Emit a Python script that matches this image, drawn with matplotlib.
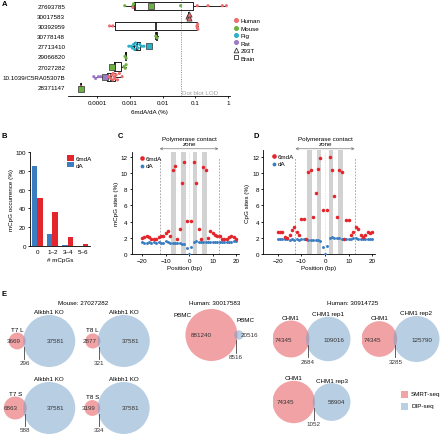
import numpy as np
import matplotlib
matplotlib.use('Agg')
import matplotlib.pyplot as plt
from matplotlib.patches import Circle, Rectangle
from matplotlib.lines import Line2D

plt.rcParams['font.family'] = ['Liberation Sans', 'DejaVu Sans']
plt.rcParams['font.size'] = 4.5
plt.rcParams['axes.linewidth'] = 0.6
for k in ['xtick', 'ytick']:
    plt.rcParams[k + '.major.width'] = 0.6
    plt.rcParams[k + '.major.size'] = 1.6
    plt.rcParams[k + '.major.pad'] = 1.2
    plt.rcParams[k + '.labelsize'] = 4.5
plt.rcParams['axes.labelsize'] = 4.5
plt.rcParams['axes.labelpad'] = 1.5

# ---------------- data ----------------
# Panel A
a_studies = ['27693785', '30017583', '30392959', '30778148', '27713410',
             '29066820', '27027282', '10.1039/C5RA05307B', '28371147']
a_whislo = [0.0007, 0.055, 0.00024, 0.0060, 0.00093, 0.00070, 0.00029, 0.000079, 0.000032]
a_q1 = [0.00132, 0.058, 0.00035, 0.0062, 0.0013, 0.00072, 0.00032, 0.00020, 0.000032]
a_med = [0.0014, 0.062, 0.0065, 0.0065, 0.0016, 0.00074, 0.00036, 0.00027, 0.000032]
a_q3 = [0.085, 0.066, 0.115, 0.0068, 0.0021, 0.00076, 0.00052, 0.00036, 0.000032]
a_whishi = [0.89, 0.068, 0.12, 0.0070, 0.0027, 0.00078, 0.00077, 0.00058, 0.000032]

a_pt_study = [0, 0, 0, 0, 0, 0, 0, 0, 0, 0,
              1, 1, 1,
              2, 2, 2, 2, 2, 2,
              3, 3,
              4, 4, 4, 4, 4, 4, 4, 4, 4, 4, 4, 4,
              5, 5,
              6, 6, 6, 6,
              7, 7, 7, 7, 7, 7, 7, 7, 7, 7, 7, 7, 7, 7, 7, 7,
              8, 8]
a_pt_value = [0.0007, 0.00124, 0.0013, 0.0045, 0.0356, 0.00124, 0.115, 0.244, 0.67, 0.89,
              0.058, 0.062, 0.066,
              0.00024, 0.0003, 0.112, 0.115, 0.118, 0.12,
              0.0062, 0.0068,
              0.00093, 0.0011, 0.0012, 0.0013, 0.0014, 0.0015, 0.0016, 0.0018, 0.0020, 0.0023, 0.0027, 0.0038,
              0.00071, 0.00077,
              0.00029, 0.00066, 0.00072, 0.00077,
              0.000079, 0.00009, 0.00011, 0.00013, 0.00017,
              0.00023, 0.00026, 0.00028, 0.0003, 0.00031, 0.00033, 0.00035, 0.00038, 0.00042, 0.00048, 0.00058,
              0.000032, 0.000032]
a_pt_species = ['Mouse'] * 5 + ['Human'] * 5 + ['Human'] * 3 + ['Human'] * 6 + ['Mouse'] * 2 + \
               ['Pig'] * 12 + ['Mouse'] * 2 + ['Mouse'] * 4 + ['Rat'] * 5 + ['Human'] * 11 + ['Human', 'Mouse']
a_pt_sample = ['tissue', 'tissue', 'tissue', 'Brain', 'tissue', 'tissue', 'tissue', 'tissue', 'tissue', 'tissue',
               '293T', '293T', '293T',
               'tissue'] * 1 + ['tissue'] * 5 + ['tissue'] * 2 + ['tissue'] * 11 + ['Brain'] + \
              ['tissue'] * 2 + ['Brain', 'tissue', 'tissue', 'tissue'] + ['tissue'] * 4 + ['Brain'] + \
              ['tissue'] * 11 + ['tissue', 'Brain']
a_lod = 0.0356

# Panel B
b_categories = ['0', '1\u20132', '3\u20134', '5\u20136']
b_6mda = [51, 36.4, 9.6, 1.8]
b_da = [85, 13, 1, 0.2]

# Panels C and D
cd_positions = list(range(-20, 21))
c_6mda = [1.97, 2.1, 2.2, 2.05, 1.8, 1.9, 1.85, 2.05, 2.2, 2.25, 2.6, 2.8, 2.2, 10.35, 10.9, 1.8, 3.1, 8.8,
          11.4, 4.05, np.nan, 4.05, 11.4, 8.75, 3.1, 1.8, 10.8, 10.35, 2.0, 2.85, 2.6, 2.35, 2.2, 2.2, 1.9,
          1.85, 1.9, 2.1, 2.2, 2.05, 1.8]
c_da = [1.45, 1.4, 1.4, 1.45, 1.4, 1.45, 1.4, 1.45, 1.4, 1.4, 1.6, 1.45, 1.4, 1.35, 1.35, 1.3, 1.3, 1.25,
        1.2, 0.75, 0.05, 0.9, 1.5, 1.55, 1.5, 1.5, 1.5, 1.45, 1.5, 1.5, 1.45, 1.5, 1.45, 1.5, 1.5, 1.45,
        1.5, 1.5, 1.5, 1.55, 1.6]
d_6mda = [2.75, 2.7, 2.75, 2.05, 2.0, 2.3, 2.95, 3.35, 2.75, 2.3, 4.3, 4.3, 1.9, 10.1, 10.4, 4.6, 7.5,
          10.5, 11.9, 5.4, np.nan, 5.4, 12.0, 10.4, 7.2, 4.6, 10.4, 10.1, 1.9, 4.2, 4.2, 2.3, 2.7, 3.35,
          3.15, 2.3, 2.1, 2.3, 2.75, 2.55, 2.75]
d_da = [1.9, 1.85, 1.85, 1.8, 1.8, 1.75, 1.8, 1.75, 1.8, 1.75, 1.8, 1.85, 1.8, 1.75, 1.75, 1.7, 1.75, 1.7,
        1.65, 0.9, 0.05, 1.0, 2.0, 2.05, 2.0, 2.0, 1.95, 1.9, 1.85, 1.8, 1.85, 1.9, 1.95, 2.0, 1.9, 1.85,
        1.85, 1.85, 1.9, 1.85, 1.9]
contact_bands = [-6.5, -2.5, 2.5, 6.5]
contact_zone = [-12.5, 12.5]

# Panel E
venn_left_only = [3669, 2877, 6863, 3199, 881240, 74345, 74345, 74345]
venn_right_only = [37581, 37581, 37581, 37581, 20516, 109016, 125790, 58904]
venn_overlap = [296, 321, 588, 334, 8516, 2684, 3285, 1052]
venn_left_name = ['T7 L', 'T8 L', 'T7 S', 'T8 S', 'PBMC', 'CHM1', 'CHM1', 'CHM1']
venn_right_name = ['Alkbh1 KO', 'Alkbh1 KO', 'Alkbh1 KO', 'Alkbh1 KO', 'PBMC', 'CHM1 rep1', 'CHM1 rep2', 'CHM1 rep3']
venn_group_titles = ['Mouse: 27027282', 'Human: 30017583', 'Human: 30914725']

# ---------------- figure ----------------
W, H = 440, 435
fig = plt.figure(figsize=(4.4, 4.35), dpi=100)


def px_axes(l, t, r, b):
    return fig.add_axes([l / W, 1 - b / H, (r - l) / W, (b - t) / H])


def fig_text(x, y, s, **kw):
    fig.text(x / W, 1 - y / H, s, **kw)


species_col = {'Human': '#ee6b6e', 'Mouse': '#6cb043', 'Pig': '#2bb1c6', 'Rat': '#9c7bc4'}
sample_marker = {'tissue': 'o', '293T': '^', 'Brain': 's'}
sample_size = {'tissue': 5, '293T': 14, 'Brain': 13}

# ---- Panel A ----
axA = px_axes(68, 0, 230, 97)
axA.set_xscale('log')
axA.set_xlim(10 ** -4.89, 10 ** 0.06)
axA.set_ylim(8.91, -0.66)
stats = []
for i in range(len(a_studies)):
    stats.append(dict(whislo=a_whislo[i], q1=a_q1[i], med=a_med[i], q3=a_q3[i], whishi=a_whishi[i]))
axA.bxp(stats, positions=range(len(a_studies)), orientation='horizontal', widths=0.8, showfliers=False,
        showcaps=False,
        boxprops=dict(color='#222222', lw=0.7), whiskerprops=dict(color='#222222', lw=0.7),
        medianprops=dict(color='#111111', lw=1.2), zorder=2)
axA.axvline(a_lod, color='#9a9a9a', ls=(0, (1.2, 1.2)), lw=0.7, zorder=1)
axA.text(a_lod * 1.12, 8.55, 'Dot blot LOD', color='#a0a0a0', fontsize=4.5, va='center', ha='left')

# simple swarm-like vertical spreading for nearby points
vals = np.array(a_pt_value)
rows = np.array(a_pt_study)
offs = np.zeros(len(vals))
for r in range(len(a_studies)):
    idx = np.where(rows == r)[0]
    idx = idx[np.argsort(vals[idx])]
    k = 0
    prev = None
    for j in idx:
        if prev is not None and abs(np.log10(vals[j]) - np.log10(prev)) < 0.06:
            k += 1
        else:
            k = 0
        offs[j] = [0, 0.18, -0.18, 0.32, -0.32][k % 5]
        prev = vals[j]
for j in range(len(vals)):
    m = sample_marker[a_pt_sample[j]]
    axA.scatter(vals[j], rows[j] + offs[j], s=sample_size[a_pt_sample[j]], marker=m,
                color=species_col[a_pt_species[j]],
                edgecolor='#333333' if m != 'o' else 'none', linewidth=0.5, zorder=3)
axA.set_yticks(range(len(a_studies)))
axA.set_yticklabels(a_studies)
axA.tick_params(axis='y', length=0, pad=2)
axA.set_xticks([1e-4, 1e-3, 1e-2, 1e-1, 1])
axA.set_xticklabels(['0.0001', '0.001', '0.01', '0.1', '1'])
axA.minorticks_off()
for s in ['left', 'top', 'right']:
    axA.spines[s].set_visible(False)
axA.set_xlabel('6mdA/dA (%)', labelpad=3)
handlesA = [Line2D([], [], ls='', marker='o', color=species_col[s], markersize=2.6, label=s)
            for s in ['Human', 'Mouse', 'Pig', 'Rat']]
handlesA += [Line2D([], [], ls='', marker='^', mfc='none', mec='#333333', mew=0.6, markersize=3.4, label='293T'),
             Line2D([], [], ls='', marker='s', mfc='none', mec='#333333', mew=0.6, markersize=3.2, label='Brain')]
axA.legend(handles=handlesA, loc='upper left', bbox_to_anchor=(1.005, 0.83), frameon=False,
           handlelength=0.8, handletextpad=0.3, labelspacing=0.33, borderaxespad=0, fontsize=4.5)

# ---- Panel B ----
axB = px_axes(30, 153, 90, 247)
xb = np.arange(len(b_categories))
bw = 0.35
axB.bar(xb - bw / 2, b_da, width=bw, color='#3a7ec1', label='dA')
axB.bar(xb + bw / 2, b_6mda, width=bw, color='#e4252b', label='6mdA')
axB.set_xlim(-0.48, 3.47)
axB.set_ylim(0, 100)
axB.set_yticks(range(0, 101, 20))
axB.set_xticks(xb)
axB.set_xticklabels(b_categories)
axB.tick_params(axis='x', length=0, pad=2)
for s in ['top', 'right']:
    axB.spines[s].set_visible(False)
axB.set_ylabel('mCpG occurrence (%)')
axB.set_xlabel('# mCpGs', labelpad=2)
hB, lB = axB.get_legend_handles_labels()
axB.legend(hB[::-1], lB[::-1], loc='upper left', bbox_to_anchor=(0.58, 0.99), frameon=False,
           handlelength=1.0, handleheight=0.9, handletextpad=0.4, labelspacing=0.15, borderaxespad=0,
           fontsize=4.5)


# ---- Panels C and D ----
def position_panel(ax, red, blue, ylab, xleft):
    ax.set_xlim(xleft, 21)
    ax.set_ylim(0, 12.6)
    for c in contact_bands:
        ax.axvspan(c - 1, c + 1, color='#d2d2d2', lw=0, zorder=0)
    for z in contact_zone:
        ax.plot([z, z], [0, 11.8], color='#8a8a8a', ls=(0, (2.5, 2)), lw=0.5, zorder=1)
    ax.plot([0, 0], [0, 12.6], color='#c8c8c8', ls=(0, (1, 1.5)), lw=0.5, zorder=1)
    ax.scatter(cd_positions, blue, s=4.5, color='#3a7ec1', lw=0, zorder=3, label='dA')
    ax.scatter(cd_positions, red, s=6.5, color='#e4252b', lw=0, zorder=4, label='6mdA')
    ax.set_yticks(range(0, 13, 2))
    ax.set_xticks([-20, -10, 0, 10, 20])
    for s in ['top', 'right']:
        ax.spines[s].set_visible(False)
    ax.set_ylabel(ylab)
    ax.set_xlabel('Position (bp)', labelpad=1.5)
    ax.annotate('', xy=(contact_zone[0], 13.0), xytext=(contact_zone[1], 13.0), xycoords='data',
                arrowprops=dict(arrowstyle='<->', color='#777777', lw=0.5, shrinkA=0, shrinkB=0,
                                mutation_scale=4), annotation_clip=False)
    ax.text(0, 13.35, 'Polymerase contact\nzone', ha='center', va='bottom', fontsize=4.5,
            linespacing=0.95, clip_on=False)
    h, l = ax.get_legend_handles_labels()
    ax.legend(h[::-1], l[::-1], loc='upper left', bbox_to_anchor=(0.06, 0.99), frameon=False,
              handlelength=0.6, handletextpad=0.3, labelspacing=0.3, borderaxespad=0, fontsize=4.5,
              markerscale=1.3)


axC = px_axes(131.5, 153, 238.5, 255)
position_panel(axC, c_6mda, c_da, 'mCpG sites (%)', -24.5)
axD = px_axes(263, 151, 374.7, 255)
position_panel(axD, d_6mda, d_da, 'CpG sites (%)', -26.2)
axD.set_ylim(0, 12.6 * (104 / 102))


# ---- Panel E (Venn diagrams) ----
def lens_area(r1, r2, d):
    if d >= r1 + r2:
        return 0.0
    if d <= abs(r1 - r2):
        return np.pi * min(r1, r2) ** 2
    a = r1 ** 2 * np.arccos((d * d + r1 * r1 - r2 * r2) / (2 * d * r1))
    b = r2 ** 2 * np.arccos((d * d + r2 * r2 - r1 * r1) / (2 * d * r2))
    c = 0.5 * np.sqrt((-d + r1 + r2) * (d + r1 - r2) * (d - r1 + r2) * (d + r1 + r2))
    return a + b - c


def solve_d(r1, r2, target):
    lo, hi = abs(r1 - r2), r1 + r2
    for _ in range(80):
        mid = 0.5 * (lo + hi)
        if lens_area(r1, r2, mid) > target:
            lo = mid
        else:
            hi = mid
    return 0.5 * (lo + hi)


red_c = (229 / 255, 71 / 255, 77 / 255)
blue_c = (115 / 255, 159 / 255, 201 / 255)
venn_centers = [(42, 342), (117.5, 342), (39.5, 409), (117, 409), (214.5, 336), (311.5, 340),
                (400.5, 340), (311.5, 403)]
BOXW, BOXH = 78, 52

for i, (cx, cy) in enumerate(venn_centers):
    a_only, b_only, ov = venn_left_only[i], venn_right_only[i], venn_overlap[i]
    U = a_only + b_only + ov
    r1 = np.sqrt((a_only + ov) / U / np.pi)
    r2 = np.sqrt((b_only + ov) / U / np.pi)
    d = solve_d(r1, r2, ov / U)
    Wd = r1 + d + r2
    Hd = 2 * max(r1, r2)
    s = min(BOXW / Wd, BOXH / Hd)  # px per unit
    xc = (-r1 + d + r2) / 2
    ax = px_axes(cx - BOXW / 2, cy - BOXH / 2, cx + BOXW / 2, cy + BOXH / 2)
    ax.set_axis_off()
    ax.set_xlim(xc - BOXW / 2 / s, xc + BOXW / 2 / s)
    ax.set_ylim(-BOXH / 2 / s, BOXH / 2 / s)
    ax.add_patch(Circle((0, 0), r1, fc=red_c, alpha=0.5, ec='none'))
    ax.add_patch(Circle((d, 0), r2, fc=blue_c, alpha=0.5, ec='none'))
    px = 1.0 / s
    small_b = r2 * s < 8
    # set labels
    if small_b:
        ax.text(-r1 * 0.72 - 1 * px, r1 * 0.72 + 2 * px, venn_left_name[i], ha='right', va='center')
        ax.text(d + 7 * px, r2 + 11 * px, venn_right_name[i], ha='center', va='center')
    else:
        ax.text(0, r1 + 3.5 * px, venn_left_name[i], ha='center', va='center')
        ax.text(d, r2 + 3 * px, venn_right_name[i], ha='center', va='center')
    # counts
    ax.text(-0.4 * r1, 0, f'{a_only}', ha='center', va='center', color='#333333')
    if small_b:
        ax.text(d + 0.3 * r2, 0, f'{b_only}', ha='left', va='center', color='#333333')
    else:
        ax.text(d + 0.25 * r2, 0, f'{b_only}', ha='center', va='center', color='#333333')
    xi = (d * d + r1 * r1 - r2 * r2) / (2 * d)
    hchord = np.sqrt(max(r1 * r1 - xi * xi, 0))
    lx = 0.5 * ((d - r2) + r1)
    ystart = -min(hchord, 5 * px)
    ax.plot([lx, lx], [ystart - 1 * px, -18 * px], color='#444444', lw=0.6)
    ax.text(lx, -22 * px, f'{ov}', ha='center', va='center', color='#333333')

fig_text(83, 304, venn_group_titles[0], ha='center', va='center')
fig_text(215, 304, venn_group_titles[1], ha='center', va='center')
fig_text(353, 304, venn_group_titles[2], ha='center', va='center')

# Venn legend
for j, (lab, col) in enumerate([('SMRT-seq', (242 / 255, 163 / 255, 166 / 255)),
                                 ('DIP-seq', (185 / 255, 207 / 255, 228 / 255))]):
    y = 395 + 12 * j
    fig.add_artist(Rectangle(((400.5) / W, 1 - (y + 3.5) / H), 7 / W, 7 / H, transform=fig.transFigure,
                             fc=col, ec='none'))
    fig_text(411, y, lab, ha='left', va='center')

# panel letters
for lab, (x, y) in zip('ABCDE', [(2, 5), (2, 137), (118, 137), (253, 137), (2, 295)]):
    fig_text(x, y, lab, ha='left', va='center', fontsize=5.5, fontweight='bold')

fig.savefig('out.png', dpi=100)
